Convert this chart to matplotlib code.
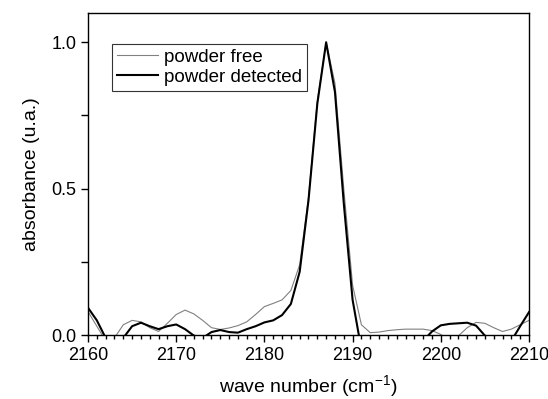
import matplotlib
matplotlib.use("Agg")
import matplotlib.pyplot as plt
from matplotlib.ticker import MultipleLocator

plt.rcParams["font.family"] = ["Liberation Sans", "DejaVu Sans"]
plt.rcParams["mathtext.default"] = "regular"

# wave numbers (cm-1)
wavenumber = [2160, 2161, 2162, 2163, 2164, 2165, 2166, 2167, 2168, 2169,
              2170, 2171, 2172, 2173, 2174, 2175, 2176, 2177, 2178, 2179,
              2180, 2181, 2182, 2183, 2184, 2185, 2186, 2187, 2188, 2189,
              2190, 2191, 2192, 2193, 2194, 2195, 2196, 2197, 2198, 2199,
              2200, 2201, 2202, 2203, 2204, 2205, 2206, 2207, 2208, 2209,
              2210]

powder_free = [0.08, 0.03, -0.02, -0.01, 0.035, 0.05, 0.045, 0.025, 0.012, 0.04,
               0.07, 0.085, 0.072, 0.05, 0.025, 0.019, 0.024, 0.032, 0.045, 0.07,
               0.097, 0.108, 0.12, 0.152, 0.24, 0.47, 0.8, 1.0, 0.86, 0.5,
               0.17, 0.035, 0.008, 0.01, 0.015, 0.018, 0.02, 0.02, 0.02, 0.015,
               0.002, -0.02, -0.003, 0.025, 0.043, 0.04, 0.025, 0.012, 0.02, 0.035,
               0.05]

powder_detected = [0.093, 0.05, -0.01, -0.04, -0.01, 0.03, 0.042, 0.03, 0.02, 0.03,
                   0.036, 0.02, -0.002, -0.01, 0.01, 0.017, 0.01, 0.008, 0.02, 0.03,
                   0.043, 0.05, 0.068, 0.106, 0.216, 0.46, 0.79, 1.0, 0.83, 0.45,
                   0.12, -0.05, -0.06, -0.05, -0.05, -0.05, -0.04, -0.03, -0.02, 0.012,
                   0.033, 0.038, 0.04, 0.042, 0.032, -0.002, -0.03, -0.03, -0.02, 0.03,
                   0.078]

fig = plt.figure(figsize=(5.48, 3.99), dpi=100)
ax = fig.add_axes([0.1606, 0.1604, 0.8047, 0.807])

ax.plot(wavenumber, powder_free, color="#808080", lw=0.8, label="powder free")
ax.plot(wavenumber, powder_detected, color="black", lw=1.5, label="powder detected")

ax.set_xlim(2160, 2210)
ax.set_ylim(0, 1.1)
ax.xaxis.set_major_locator(MultipleLocator(10))
ax.xaxis.set_minor_locator(MultipleLocator(1))
ax.yaxis.set_major_locator(MultipleLocator(0.5))
ax.yaxis.set_minor_locator(MultipleLocator(0.25))
ax.yaxis.set_major_formatter(matplotlib.ticker.FormatStrFormatter("%.1f"))
ax.tick_params(which="major", direction="out", length=5, width=1, labelsize=13)
ax.tick_params(which="minor", direction="out", length=3, width=1)
ax.tick_params(axis="y", which="minor", length=5)

for s in ax.spines.values():
    s.set_linewidth(1)

ax.set_xlabel("wave number (cm$^{-1}$)", fontsize=14, labelpad=7)
ax.set_ylabel("absorbance (u.a.)", fontsize=14, labelpad=8)

leg = ax.legend(loc="upper left", bbox_to_anchor=(0.055, 0.903), borderaxespad=0,
                fontsize=13.5, frameon=True, fancybox=False, handlelength=2.2,
                handletextpad=0.3, labelspacing=0.15, borderpad=0.25)
leg.get_frame().set_edgecolor("black")
leg.get_frame().set_linewidth(0.8)

fig.savefig("out.png", dpi=100)
